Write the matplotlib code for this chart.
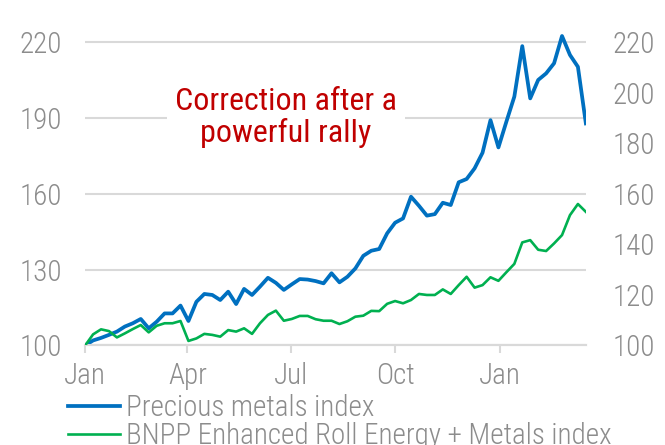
import matplotlib
matplotlib.use("Agg")
import matplotlib.pyplot as plt
import matplotlib.dates as mdates
import pandas as pd
import numpy as np

plt.rcParams['font.family'] = ['Roboto Condensed', 'Liberation Sans Narrow', 'Roboto', 'DejaVu Sans']

dates = pd.date_range('2025-01-01', periods=64, freq='7D')

precious = [100, 102.0, 103.0, 104.2, 105.5, 107.5, 108.8, 110.5, 106.8, 109.4,
            112.7, 112.7, 115.8, 109.7, 117.3, 120.4, 120.0, 118.0, 121.3, 116.4,
            122.4, 120.0, 123.3, 126.8, 124.8, 122.0, 124.2, 126.3, 126.1, 125.5,
            124.6, 128.6, 125.0, 127.2, 130.5, 135.5, 137.5, 138.2, 144.4, 148.6,
            150.3, 158.9, 155.3, 151.4, 152.0, 156.5, 155.6, 164.6, 165.9, 170.1,
            176.3, 189.2, 178.4, 188.6, 198.5, 218.5, 197.8, 205.1, 207.7, 211.7,
            222.5, 215.0, 210.3, 187.9]

bnpp = [100, 104.4, 106.4, 105.7, 103.2, 104.8, 106.5, 108.1, 105.2, 107.8,
        108.8, 108.8, 109.7, 101.8, 102.8, 104.6, 104.2, 103.5, 106.1, 105.5,
        106.8, 104.6, 108.8, 112.1, 113.8, 109.8, 110.5, 111.7, 111.7, 110.4,
        109.8, 109.8, 108.5, 109.6, 111.4, 111.8, 113.7, 113.6, 116.5, 117.6,
        116.7, 118.0, 120.4, 120.0, 120.0, 122.2, 120.4, 123.9, 127.2, 122.9,
        123.9, 127.0, 125.6, 129.0, 132.3, 140.8, 141.7, 137.9, 137.4, 140.4,
        143.7, 151.6, 156.0, 152.9]

left_ticks = [100, 130, 160, 190, 220]
right_ticks = [100, 120, 140, 160, 180, 200, 220]
tick_months = ['2025-01-01', '2025-04-01', '2025-07-01', '2025-10-01', '2026-01-01']

blue = '#0070C0'
green = '#00B050'
gray_txt = '#8C8C8C'
grid_c = '#D9D9D9'

fig = plt.figure(figsize=(6.65, 4.45), dpi=100)
ax = fig.add_axes([0.128, 0.2236, 0.753, 0.7097])
ax2 = ax.twinx()

for a in (ax, ax2):
    a.set_ylim(100, 225)
    for s in ('top', 'left', 'right'):
        a.spines[s].set_visible(False)
    a.spines['bottom'].set_color(grid_c)
    a.spines['bottom'].set_linewidth(1.5)

ax.set_yticks(left_ticks)
ax2.set_yticks(right_ticks)
ax.yaxis.grid(True, color=grid_c, linewidth=1.5)
ax.set_axisbelow(True)
ax.tick_params(axis='y', length=0, labelsize=21, labelcolor=gray_txt, pad=16.5)
ax2.tick_params(axis='y', length=0, labelsize=21, labelcolor=gray_txt, pad=19)

l1, = ax.plot(dates, precious, color=blue, linewidth=2.7, label='Precious metals index', zorder=3)
l2, = ax2.plot(dates, bnpp, color=green, linewidth=1.9, label='BNPP Enhanced Roll Energy + Metals index', zorder=3)

ax.set_xlim(dates[0], dates[-1])
ax.set_xticks(pd.to_datetime(tick_months))
ax.xaxis.set_major_formatter(mdates.DateFormatter('%b'))
ax.tick_params(axis='x', length=6, width=1.5, color=grid_c, labelsize=21,
               labelcolor=gray_txt, pad=6)
ax2.tick_params(axis='x', length=0)

for lab in ax.get_xticklabels() + ax.get_yticklabels() + ax2.get_yticklabels():
    lab.set_fontweight('light')

ax.text(0.401, 0.722, 'Correction after a\npowerful rally', transform=ax.transAxes,
        ha='center', va='center', fontsize=23, color='#C00000', linespacing=1.05,
        bbox=dict(facecolor='white', edgecolor='none', pad=6), zorder=4)

fig.legend(handles=[l1, l2], loc='upper left', bbox_to_anchor=(0.102, 0.114),
           frameon=False, labelcolor=gray_txt, handlelength=1.8,
           prop={'size': 21, 'weight': 'light'},
           handletextpad=0.2, borderpad=0, borderaxespad=0, labelspacing=0.0)

fig.savefig('out.png', dpi=100)
